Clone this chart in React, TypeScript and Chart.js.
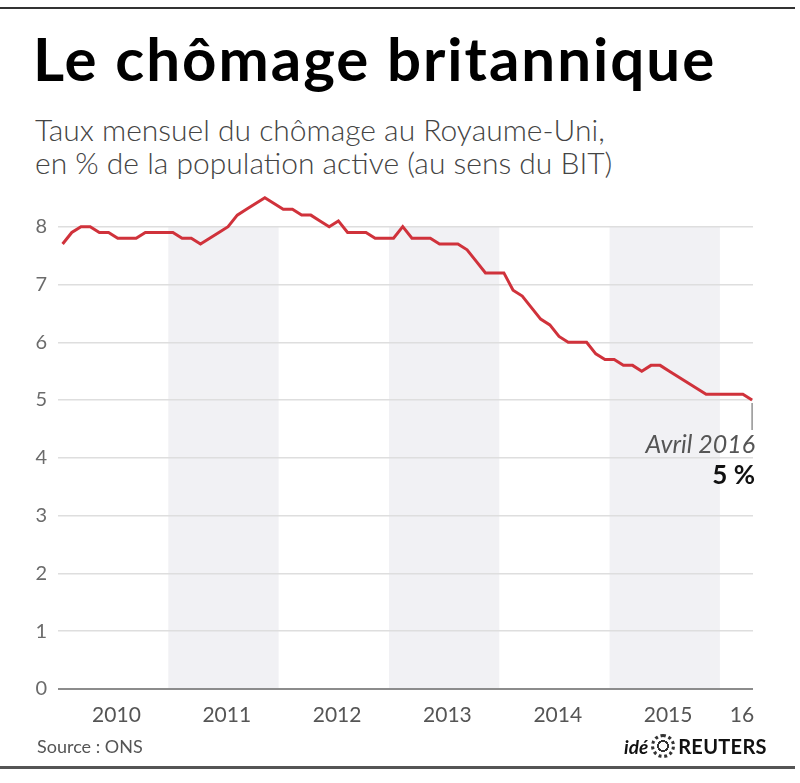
import React, { useEffect, useRef } from "react";
import { Chart, registerables } from "chart.js";

Chart.register(...registerables);

// Monthly unemployment rate (%), Jan 2010 – Apr 2016
const startYear = 2010;
const rate2010 = [7.7, 7.9, 8.0, 8.0, 7.9, 7.9, 7.8, 7.8, 7.8, 7.9, 7.9, 7.9];
const rate2011 = [7.9, 7.8, 7.8, 7.7, 7.8, 7.9, 8.0, 8.2, 8.3, 8.4, 8.5, 8.4];
const rate2012 = [8.3, 8.3, 8.2, 8.2, 8.1, 8.0, 8.1, 7.9, 7.9, 7.9, 7.8, 7.8];
const rate2013 = [7.8, 8.0, 7.8, 7.8, 7.8, 7.7, 7.7, 7.7, 7.6, 7.4, 7.2, 7.2];
const rate2014 = [7.2, 6.9, 6.8, 6.6, 6.4, 6.3, 6.1, 6.0, 6.0, 6.0, 5.8, 5.7];
const rate2015 = [5.7, 5.6, 5.6, 5.5, 5.6, 5.6, 5.5, 5.4, 5.3, 5.2, 5.1, 5.1];
const rate2016 = [5.1, 5.1, 5.1, 5.0];
const allRates = [rate2010, rate2011, rate2012, rate2013, rate2014, rate2015, rate2016];

const shadedYears = [2011, 2013, 2015];
const yTickValues = [0, 1, 2, 3, 4, 5, 6, 7, 8];
const xTickLabels = ["2010", "2011", "2012", "2013", "2014", "2015", "16"];
const xTickPositions = [2010.53, 2011.53, 2012.53, 2013.53, 2014.53, 2015.53, 2016.2];

const FONT = "Lato, 'Open Sans', sans-serif";

const points = allRates.flatMap((arr, yi) =>
  arr.map((v, m) => ({ x: startYear + yi + (m + 0.5) / 12, y: v }))
);

const bandsPlugin = {
  id: "bands",
  beforeDraw(chart: any) {
    const { ctx, scales } = chart;
    const x = scales.x;
    const y = scales.y;
    ctx.save();
    ctx.fillStyle = "#f1f1f4";
    const top = y.getPixelForValue(8);
    const bottom = y.getPixelForValue(0);
    shadedYears.forEach((yr) => {
      const l = x.getPixelForValue(yr);
      const r = x.getPixelForValue(yr + 1);
      ctx.fillRect(l, top, r - l, bottom - top);
    });
    ctx.restore();
  },
  afterDatasetsDraw(chart: any) {
    const { ctx, scales } = chart;
    const last = points[points.length - 1];
    const px = scales.x.getPixelForValue(last.x);
    const py = scales.y.getPixelForValue(last.y);
    ctx.save();
    ctx.strokeStyle = "#777";
    ctx.lineWidth = 1.2;
    ctx.beginPath();
    ctx.moveTo(px, py + 3);
    ctx.lineTo(px, py + 30);
    ctx.stroke();
    ctx.restore();
  },
};

export default function App() {
  const ref = useRef<HTMLCanvasElement | null>(null);

  useEffect(() => {
    if (!ref.current) return;
    const chart = new Chart(ref.current, {
      type: "line",
      data: {
        datasets: [
          {
            data: points,
            borderColor: "#d0323b",
            borderWidth: 3,
            pointRadius: 0,
            tension: 0,
            fill: false,
          },
        ],
      },
      options: {
        animation: false,
        responsive: false,
        maintainAspectRatio: false,
        layout: { padding: { top: 192, right: 47, bottom: 54, left: 0 } },
        plugins: { legend: { display: false }, tooltip: { enabled: false } },
        scales: {
          x: {
            type: "linear",
            min: 2010,
            max: 2016.3,
            grid: { display: false, drawTicks: false },
            border: { display: false },
            afterBuildTicks: (scale: any) => {
              scale.ticks = xTickPositions.map((v) => ({ value: v }));
            },
            afterFit: (scale: any) => {
              scale.height = 40;
            },
            ticks: {
              autoSkip: false,
              maxRotation: 0,
              padding: 14,
              color: "#555",
              font: { family: FONT, size: 21 },
              callback: (_v: any, i: number) => xTickLabels[i],
            },
          },
          y: {
            min: 0,
            max: 8.6,
            afterBuildTicks: (scale: any) => {
              scale.ticks = yTickValues.map((v) => ({ value: v }));
            },
            afterFit: (scale: any) => {
              scale.width = 58;
            },
            border: { display: false },
            grid: {
              drawTicks: false,
              color: (c: any) => (c.tick && c.tick.value === 0 ? "#8c8c8c" : "#dedede"),
              lineWidth: (c: any) => (c.tick && c.tick.value === 0 ? 2 : 1.5),
            },
            ticks: {
              padding: 11,
              color: "#6b6b6b",
              font: { family: FONT, size: 20 },
              callback: (v: any) => String(v),
            },
          },
        },
      },
      plugins: [bandsPlugin],
    });
    return () => chart.destroy();
  }, []);

  return (
    <div
      style={{
        position: "absolute",
        left: 0,
        top: 0,
        width: 800,
        height: 783,
        background: "#fff",
        fontFamily: FONT,
        overflow: "hidden",
      }}
    >
      <div style={{ position: "absolute", left: 0, top: 7, width: 795, height: 2, background: "#333" }} />
      <div
        style={{
          position: "absolute",
          left: 33,
          top: 22,
          fontSize: 60,
          fontWeight: 700,
          letterSpacing: 2,
          color: "#000",
          lineHeight: "72px",
          whiteSpace: "nowrap",
        }}
      >
        Le chômage britannique
      </div>
      <div
        style={{
          position: "absolute",
          left: 35,
          top: 113,
          fontSize: 30,
          fontWeight: 300,
          color: "#444",
          lineHeight: "33px",
          whiteSpace: "nowrap",
        }}
      >
        Taux mensuel du chômage au Royaume-Uni,
        <br />
        en % de la population active (au sens du BIT)
      </div>
      <canvas ref={ref} width={800} height={783} style={{ position: "absolute", left: 0, top: 0 }} />
      <div
        style={{
          position: "absolute",
          right: 45,
          top: 429,
          fontSize: 25,
          fontStyle: "italic",
          color: "#555",
          lineHeight: "28px",
          whiteSpace: "nowrap",
          textAlign: "right",
        }}
      >
        Avril 2016
      </div>
      <div
        style={{
          position: "absolute",
          right: 45,
          top: 460,
          fontSize: 26,
          fontWeight: 700,
          color: "#111",
          lineHeight: "28px",
          whiteSpace: "nowrap",
          textAlign: "right",
        }}
      >
        5 %
      </div>
      <div
        style={{
          position: "absolute",
          left: 37,
          top: 734,
          fontSize: 18,
          color: "#555",
          lineHeight: "24px",
          whiteSpace: "nowrap",
        }}
      >
        Source : ONS
      </div>
      <div
        style={{
          position: "absolute",
          left: 624,
          top: 734,
          height: 24,
          display: "flex",
          alignItems: "center",
          whiteSpace: "nowrap",
          color: "#111",
        }}
      >
        <span style={{ fontSize: 19, fontWeight: 700, fontStyle: "italic", marginRight: 3 }}>idé</span>
        <span
          style={{
            display: "inline-block",
            width: 24,
            height: 24,
            borderRadius: "50%",
            border: "3px dotted #333",
            boxSizing: "border-box",
            marginRight: 3,
            background: "radial-gradient(circle, #fff 30%, #333 32%, #333 45%, #fff 47%)",
          }}
        />
        <span style={{ fontSize: 20, fontWeight: 700, letterSpacing: 0.3 }}>REUTERS</span>
      </div>
      <div style={{ position: "absolute", left: 0, top: 766, width: 795, height: 3, background: "#555" }} />
    </div>
  );
}
